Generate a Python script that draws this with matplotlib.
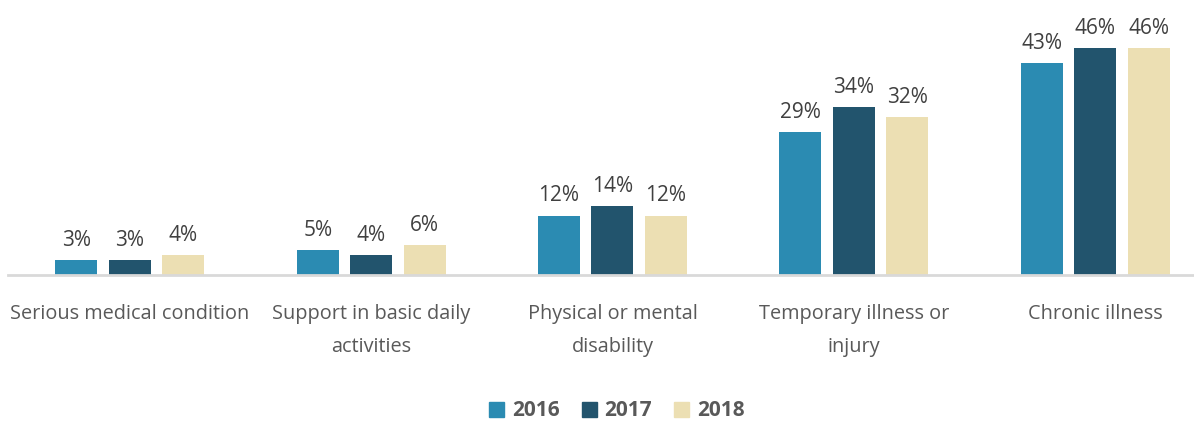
import matplotlib
matplotlib.use("Agg")
import matplotlib.pyplot as plt
import numpy as np
from matplotlib.patches import Patch

categories = ["Serious medical condition", "Support in basic daily\nactivities",
              "Physical or mental\ndisability", "Temporary illness or\ninjury", "Chronic illness"]
years = ["2016", "2017", "2018"]
v2016 = [3, 5, 12, 29, 43]
v2017 = [3, 4, 14, 34, 46]
v2018 = [4, 6, 12, 32, 46]
colors = ["#2b8bb2", "#22546d", "#ecdfb3"]

plt.rcParams['font.family'] = ['Open Sans', 'DejaVu Sans']

fig = plt.figure(figsize=(11.94, 4.21), dpi=100)
ax = fig.add_axes([8/1194, 146/421, 1 - 8/1194, 275/421])

x = np.arange(len(categories))
w = 0.174
off = 0.2215
for i, (vals, c) in enumerate(zip([v2016, v2017, v2018], colors)):
    xs = x + (i - 1) * off
    ax.bar(xs, vals, width=w, color=c, edgecolor=c, linewidth=0)
    for xi, v in zip(xs, vals):
        ax.text(xi, v + 1.9, f"{v}%", ha="center", va="bottom", fontsize=15, color="#404040")

ax.set_xlim(-0.505, 4.41)
ax.set_ylim(0, 55.8)
for s in ["top", "right", "left"]:
    ax.spines[s].set_visible(False)
ax.spines["bottom"].set_color("#d9d9d9")
ax.spines["bottom"].set_linewidth(2)
ax.set_yticks([])
ax.set_xticks(x)
ax.set_xticklabels(categories, fontsize=14.3, color="#595959", linespacing=1.85, va="top")
ax.tick_params(axis="x", length=0, pad=21)

handles = [Patch(facecolor=c, edgecolor=c) for c in colors]
leg = fig.legend(handles, years, loc="center", bbox_to_anchor=(617/1194, 1 - 411/421), ncol=3,
                 frameon=False, prop={"size": 15, "weight": "bold"}, handlelength=0.72,
                 handleheight=0.72, columnspacing=1.05, handletextpad=0.38, borderpad=0.1)
for t in leg.get_texts():
    t.set_color("#595959")

fig.savefig("out.png", dpi=100)
